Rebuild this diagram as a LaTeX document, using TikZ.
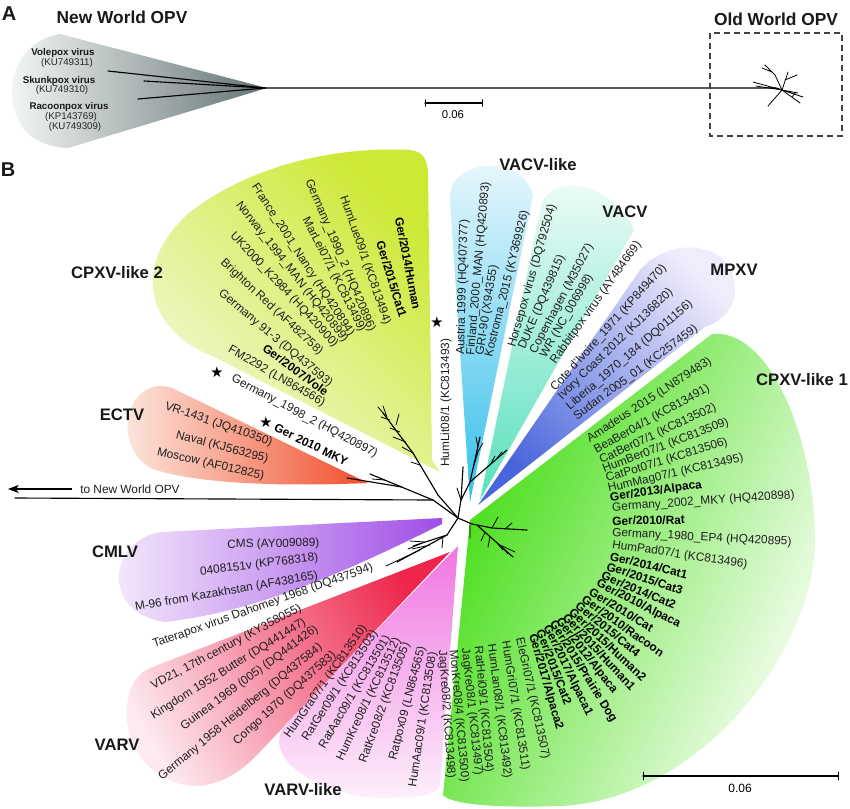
\documentclass[tikz,border=0pt]{standalone}
\usepackage{fontspec}
\setmainfont{Liberation Sans}
\newfontfamily\symfont{DejaVu Sans}
\usetikzlibrary{arrows.meta}
\definecolor{coneD}{RGB}{100,115,115}
\definecolor{coneL}{RGB}{244,246,246}
\definecolor{ylwS}{RGB}{205,232,50}
\definecolor{ylwL}{RGB}{246,249,225}
\definecolor{ectS}{RGB}{240,78,42}
\definecolor{ectL}{RGB}{253,240,234}
\definecolor{cmlS}{RGB}{160,78,230}
\definecolor{cmlL}{RGB}{247,240,252}
\definecolor{varS}{RGB}{238,38,76}
\definecolor{varL}{RGB}{253,234,240}
\definecolor{vlkS}{RGB}{240,118,225}
\definecolor{vlkL}{RGB}{253,240,251}
\definecolor{grnS}{RGB}{60,220,10}
\definecolor{grnL}{RGB}{247,254,243}
\definecolor{mpxS}{RGB}{72,102,220}
\definecolor{mpxL}{RGB}{240,236,252}
\definecolor{vacS}{RGB}{88,224,188}
\definecolor{vacL}{RGB}{240,252,249}
\definecolor{vlS}{RGB}{52,192,234}
\definecolor{vlL}{RGB}{238,249,253}
\begin{document}
\begin{tikzpicture}[x=0.75pt,y=-0.75pt,
  lab/.style={font=\fontsize{8.9}{10}\selectfont,inner sep=0pt,text=black!88},
  blab/.style={font=\bfseries\fontsize{8.9}{10}\selectfont,inner sep=0pt,text=black},
  head/.style={font=\bfseries\fontsize{12.5}{14}\selectfont,inner sep=0pt,text=black!90},
  bighead/.style={font=\bfseries\fontsize{13}{15}\selectfont,inner sep=0pt,text=black!90},
  panel/.style={font=\bfseries\fontsize{15}{16}\selectfont,inner sep=0pt,text=black!90},
  alab/.style={font=\fontsize{7.3}{8}\selectfont,inner sep=0pt,text=black!85},
  ablab/.style={font=\bfseries\fontsize{7.3}{8}\selectfont,inner sep=0pt,text=black!90},
  br/.style={line width=0.85pt,black,line cap=round},
  thinbr/.style={line width=0.6pt,black,line cap=round},
  starmark/.style={font=\symfont\fontsize{11}{11}\selectfont,inner sep=0pt}]
\useasboundingbox (0,0) rectangle (850,808);
\fill[white] (0,0) rectangle (850,808);

% ================= Panel A =================
\shade[left color=coneL, right color=coneD] (267,88) -- (60,34) .. controls (25,40) and (10,70) .. (12,95) .. controls (14,125) and (30,146) .. (68,148) -- cycle;
\coordinate (ap) at (265,88);
\coordinate (ow) at (782,90);
\draw[br] (ap) -- (108,71);
\draw[br] (ap) -- (144,81);
\draw[br] (ap) -- (138,99);
\draw[br] (ap) -- (776,88) -- (ow);
\draw[thinbr] (ow) -- (753,82) (ow) -- (756,86) (ow) -- (775,75) -- (765,65) (772,72) -- (762,68);
\draw[thinbr] (ow) -- (788,72) (785,80) -- (797,75) (ow) -- (803,97) (ow) -- (798,93);
\draw[thinbr] (ow) -- (768,106) (ow) -- (800,103) (792,97) -- (796,92);
\draw[black!75, line width=0.9pt, dash pattern=on 4.5pt off 3pt] (710,33) rectangle (842,136);
\node[panel] (pA) at (9,14) {A};
\node[bighead] (nwo) at (122,17) {New World OPV};
\node[bighead] (owo) at (776,19) {Old World OPV};
\node[ablab] (a1) at (63,53) {Volepox virus};
\node[alab] (a2) at (67,63) {(KU749311)};
\node[ablab] (a3) at (59,81) {Skunkpox virus};
\node[alab] (a4) at (62,90) {(KU749310)};
\node[ablab] (a5) at (69,107) {Racoonpox virus};
\node[alab] (a6) at (71,117) {(KP143769)};
\node[alab] (a7) at (75,127) {(KU749309)};
\coordinate (sa1) at (425,103);
\coordinate (sa2) at (482,103);
\draw[br] (sa1) -- (sa2);
\draw[thinbr] ([yshift=-2.5]sa1) -- ([yshift=2.5]sa1) ([yshift=-2.5]sa2) -- ([yshift=2.5]sa2);
\node[font=\fontsize{8.5}{10}\selectfont,inner sep=0pt] (sal) at (453,115) {0.06};

% ================= Panel B : clade backgrounds =================
% CPXV-like 2
\shade[top color=ylwS, bottom color=ylwL, shading angle=-45]
  (440,472) -- (212,356) .. controls (150,332) and (128,268) .. (188,214) .. controls (245,168) and (330,146) .. (410,150) .. controls (424,152) and (428,160) .. (428,176) -- (432,460) -- cycle;
% ECTV
\shade[left color=ectL, right color=ectS]
  (368,483) -- (172,388) .. controls (130,374) and (108,440) .. (150,468) .. controls (200,486) and (300,486) .. (368,483) -- cycle;
% CMLV
\shade[left color=cmlL, right color=cmlS]
  (442,518) -- (162,532) .. controls (110,538) and (98,612) .. (165,622) .. controls (250,612) and (330,580) .. (442,524) -- cycle;
% VARV
\shade[top color=varS, bottom color=varL, shading angle=-60]
  (450,552) -- (150,668) .. controls (112,684) and (118,772) .. (185,785) .. controls (215,790) and (240,772) .. (255,757) -- cycle;
% VARV-like
\shade[top color=vlkS, bottom color=vlkL, shading angle=0]
  (458,546) -- (285,725) .. controls (258,762) and (330,800) .. (390,798) .. controls (420,797) and (436,795) .. (440,785) -- cycle;
% CPXV-like 1
\shade[top color=grnS, middle color=grnS!78!white, bottom color=grnL, shading angle=65]
  (470,520) -- (712,334) .. controls (770,328) and (815,440) .. (815,540) .. controls (815,650) and (700,800) .. (560,806) .. controls (500,808) and (452,805) .. (443,795) -- cycle;
% MPXV
\shade[top color=mpxS, bottom color=mpxL, shading angle=135]
  (478,505) -- (640,270) .. controls (670,235) and (735,240) .. (735,290) .. controls (735,310) and (720,322) .. (705,327) -- cycle;
% VACV
\shade[top color=vacS, bottom color=vacL, shading angle=180]
  (480,500) -- (542,202) .. controls (556,174) and (612,182) .. (634,230) -- cycle;
% VACV-like
\shade[top color=vlS, bottom color=vlL, shading angle=180]
  (470,502) -- (450,200) .. controls (446,160) and (522,150) .. (533,196) -- cycle;

% ================= Panel B : tree =================
\coordinate (c0) at (458,518);
\coordinate (ja) at (433,500);
\coordinate (arrS) at (8,489);
\draw[br] (15,498) -- (ja) -- (c0);
% CPXV-like 2 clade
\draw[br] (c0) -- (438,495) -- (413,453) -- (383,413);
\draw[thinbr] (413,453) -- (402,447) (406,442) -- (393,437) (400,432) -- (390,428) (396,425) -- (399,414) (390,420) -- (381,417) (387,417) -- (383,406) (385,415) -- (378,407) (420,465) -- (411,462);
% ECTV + Ger 2010 MKY + Germany_1998_2
\draw[br] (ja) -- (370,474);
\draw[br] (402,487) -- (347,478);
\draw[thinbr] (385,480) -- (372,479);
% VACV-like / VACV / MPXV
\draw[br] (c0) -- (461,500) -- (463,467);
\draw[br] (461,500) -- (470,482) -- (480,437);
\draw[thinbr] (476,455) -- (483,443) (478,447) -- (476,437) (474,465) -- (478,452);
\draw[br] (470,482) -- (507,450);
\draw[thinbr] (497,458) -- (502,452) (490,465) -- (495,456);
\draw[thinbr] (461,500) -- (457,488);
% CPXV-like 1
\draw[br] (c0) -- (472,524) -- (492,528) -- (527,530);
\draw[thinbr] (492,528) -- (498,517) (505,529) -- (512,523) (470,524) -- (470,538);
\draw[br] (478,526) -- (513,557);
\draw[thinbr] (490,537) -- (488,547) (497,543) -- (503,550) (503,548) -- (508,554) (485,532) -- (481,541) (500,545) -- (515,552);
% CMLV / Taterapox / VARV / VARV-like
\draw[br] (c0) -- (447,535) -- (413,546);
\draw[thinbr] (425,542) -- (410,541) (420,544) -- (408,549);
\draw[br] (447,535) -- (397,562);
\draw[thinbr] (420,550) -- (386,566) (430,545) -- (412,549);
\draw[thinbr] (443,537) -- (442,548);

% arrow to New World OPV
\node[lab, anchor=west] (tonw) at (80,489) {to New World OPV};
\draw[line width=0.9pt, -{Stealth[length=8pt,width=6pt,inset=2pt]}] ([xshift=-6pt]tonw.west) -- (arrS);

% scale bar B
\coordinate (sb1) at (643,776);
\coordinate (sb2) at (838,776);
\draw[br] (sb1) -- (sb2);
\draw[thinbr] ([yshift=-3]sb1) -- ([yshift=3]sb1) ([yshift=-3]sb2) -- ([yshift=3]sb2);
\node[font=\fontsize{9}{10}\selectfont,inner sep=0pt] (sbl) at (740,788) {0.06};

% ================= Headings =================
\node[panel] (pB) at (8,170) {B};
\node[head] (hc2) at (117,273) {CPXV-like 2};
\node[head] (hect) at (122,415) {ECTV};
\node[head] (hcml) at (115,552) {CMLV};
\node[head] (hvar) at (117,745) {VARV};
\node[head] (hvlk) at (303,790) {VARV-like};
\node[head] (hc1) at (802,380) {CPXV-like 1};
\node[head] (hmpx) at (734,270) {MPXV};
\node[head] (hvac) at (625,212) {VACV};
\node[head] (hvl) at (538,165) {VACV-like};

% ================= Labels: CPXV-like 2 =================
\node[blab,rotate=-79,anchor=west] (c2a) at (399,217) {Ger/2014/Human};
\node[blab,rotate=-73,anchor=west] (c2b) at (380,241) {Ger/2015/Cat1};
\node[lab,rotate=-71,anchor=west] (c2c) at (343,196) {HumLue09/1 (KC813494)};
\node[lab,rotate=-67,anchor=west] (c2d) at (308,180) {Germany\_1990\_2 (HQ420896)};
\node[lab,rotate=-63,anchor=west] (c2e) at (305,218) {MarLei07/1 (KC813499)};
\node[lab,rotate=-57,anchor=west] (c2f) at (254,185) {France\_2001\_Nancy (HQ420894)};
\node[lab,rotate=-52,anchor=west] (c2g) at (238,203) {Norway\_1994\_MAN (HQ420899)};
\node[lab,rotate=-47,anchor=west] (c2h) at (232,234) {UK2000\_K2984 (HQ420900)};
\node[lab,rotate=-43,anchor=west] (c2i) at (222,261) {Brighton Red (AF482758)};
\node[lab,rotate=-40,anchor=west] (c2j) at (220,292) {Germany 91-3 (DQ437593)};
\node[blab,rotate=-36,anchor=west] (c2k) at (264,347) {Ger/2007/Vole};
\node[lab,rotate=-30,anchor=west] (c2l) at (229,349) {FM2292 (LN864566)};
\node[lab,rotate=-28,anchor=west] (g98) at (232,378) {Germany\_1998\_2 (HQ420897)};
\node[blab,rotate=-26,anchor=west] (g10) at (275,427) {Ger 2010 MKY};
\node[starmark] (st1) at (217,372) {★};
\node[starmark] (st2) at (266,422) {★};
\node[starmark] (st3) at (437,322) {★};
\node[lab,rotate=90,anchor=west] (hlit) at (446,467) {HumLit08/1 (KC813493)};

% ================= ECTV =================
\node[lab,rotate=-19,anchor=west] (e1) at (165,406) {VR-1431 (JQ410350)};
\node[lab,rotate=-15,anchor=west] (e2) at (176,435) {Naval (KJ563295)};
\node[lab,rotate=-13,anchor=west] (e3) at (157,452) {Moscow (AF012825)};

% ================= CMLV / Taterapox =================
\node[lab,rotate=1,anchor=west] (m1) at (227,545) {CMS (AY009089)};
\node[lab,rotate=7,anchor=west] (m2) at (200,572) {0408151v (KP768318)};
\node[lab,rotate=10,anchor=west] (m3) at (135,608) {M-96 from Kazakhstan (AF438165)};
\node[lab,rotate=19.5,anchor=west] (tat) at (153,645) {Taterapox virus Dahomey 1968 (DQ437594)};

% ================= VARV =================
\node[lab,rotate=28,anchor=west] (v1) at (152,687) {VD21, 17th century (KY358055)};
\node[lab,rotate=32,anchor=west] (v2) at (152,717) {Kingdom 1952 Butter (DQ441447)};
\node[lab,rotate=36.5,anchor=west] (v3) at (182,728) {Guinea 1969 (005) (DQ441426)};
\node[lab,rotate=39.4,anchor=west] (v4) at (160,778) {Germany 1958 Heidelberg (DQ437584)};
\node[lab,rotate=42,anchor=west] (v5) at (235,743) {Congo 1970 (DQ437583)};

% ================= VARV-like =================
\node[lab,rotate=55,anchor=west] (w1) at (287,737) {HumGra07/1 (KC813510)};
\node[lab,rotate=57,anchor=west] (w2) at (305,740) {RatGer09/1 (KC813503)};
\node[lab,rotate=59.5,anchor=west] (w3) at (322,748) {RatAac09/1 (KC813501)};
\node[lab,rotate=64.5,anchor=west] (w4) at (340,760) {HumKre08/1 (KC813512)};
\node[lab,rotate=70,anchor=west] (w5) at (363,763) {RatKre08/2 (KC813505)};
\node[lab,rotate=75.5,anchor=west] (w6) at (393,760) {Ratpox09 (LN864565)};
\node[lab,rotate=81.5,anchor=west] (w7) at (413,787) {HumAac09/1 (KC813508)};

% ================= CPXV-like 1 =================
\node[lab,rotate=33,anchor=west] (g1) at (588,440) {Amadeus 2015 (LN879483)};
\node[lab,rotate=29,anchor=west] (g2) at (595,451) {BeaBer04/1 (KC813491)};
\node[lab,rotate=25,anchor=west] (g3) at (600,461) {CatBer07/1 (KC813502)};
\node[lab,rotate=21,anchor=west] (g4) at (603,470) {HumBer07/1 (KC813509)};
\node[lab,rotate=17,anchor=west] (g5) at (606,479) {CatPot07/1 (KC813506)};
\node[lab,rotate=13,anchor=west] (g6) at (608,489) {HumMag07/1 (KC813495)};
\node[blab,rotate=8,anchor=west] (g7) at (610,498) {Ger/2013/Alpaca};
\node[lab,rotate=4,anchor=west] (g8) at (612,508) {Germany\_2002\_MKY (HQ420898)};
\node[blab,rotate=1,anchor=west] (g9) at (612,521) {Ger/2010/Rat};
\node[lab,rotate=-3,anchor=west] (g10b) at (612,533) {Germany\_1980\_EP4 (HQ420895)};
\node[lab,rotate=-8.5,anchor=west] (g11) at (612,545) {HumPad07/1 (KC813496)};
\node[blab,rotate=-13.5,anchor=west] (g12) at (610,556) {Ger/2014/Cat1};
\node[blab,rotate=-18,anchor=west] (g13) at (607,566) {Ger/2015/Cat3};
\node[blab,rotate=-22.5,anchor=west] (g14) at (602,575) {Ger/2014/Cat2};
\node[blab,rotate=-27,anchor=west] (g15) at (597,583) {Ger/2010/Alpaca};
\node[blab,rotate=-31,anchor=west] (g16) at (590,591) {Ger/2010/Cat};
\node[blab,rotate=-35,anchor=west] (g17) at (583,598) {Ger/2010/Racoon};
\node[blab,rotate=-39,anchor=west] (g18) at (577,604) {Ger/2015/Cat4};
\node[blab,rotate=-43,anchor=west] (g19) at (571,610) {Ger/2015/Human2};
\node[blab,rotate=-47,anchor=west] (g20) at (565,615) {Ger/2015/Human1};
\node[blab,rotate=-52,anchor=west] (g21) at (558,619) {Ger/2012/Alpaca};
\node[blab,rotate=-58,anchor=west] (g22) at (552,622) {Ger/2015/Prairie Dog};
\node[blab,rotate=-64,anchor=west] (g23) at (546,626) {Ger/2017/Alpaca1};
\node[blab,rotate=-69,anchor=west] (g24) at (540,630) {Ger/2015/Cat2};
\node[blab,rotate=-74,anchor=west] (g25) at (532,634) {Ger/2017/Alpaca2};
\node[lab,rotate=-77.5,anchor=west] (g26) at (519,638) {EleGri07/1 (KC813507)};
\node[lab,rotate=-81,anchor=west] (g27) at (505,641) {HumGri07/1 (KC813511)};
\node[lab,rotate=-83,anchor=west] (g28) at (491,644) {HumLan08/1 (KC813492)};
\node[lab,rotate=-85,anchor=west] (g29) at (478,646) {RatHei09/1 (KC813504)};
\node[lab,rotate=-84,anchor=west] (g30) at (465,648) {JagKre08/1 (KC813497)};
\node[lab,rotate=-85,anchor=west] (g31) at (453,650) {MonKre08/4 (KC813500)};
\node[lab,rotate=-86,anchor=west] (g32) at (442,650) {JagKre08/2 (KC813498)};

% ================= MPXV =================
\node[lab,rotate=48,anchor=west] (p1) at (553,390) {Cote d'Ivoire\_1971 (KP849470)};
\node[lab,rotate=44,anchor=west] (p2) at (560,398) {Ivory Coast 2012 (KJ136820)};
\node[lab,rotate=40.5,anchor=west] (p3) at (568,408) {Liberia\_1970\_184 (DQ011156)};
\node[lab,rotate=36.6,anchor=west] (p4) at (575,418) {Sudan 2005\_01 (KC257459)};

% ================= VACV =================
\node[lab,rotate=74,anchor=west] (k1) at (512,347) {Horsepox virus (DQ792504)};
\node[lab,rotate=67,anchor=west] (k2) at (522,349) {DUKE (DQ439815)};
\node[lab,rotate=62,anchor=west] (k3) at (533,353) {Copenhagen (M35027)};
\node[lab,rotate=60,anchor=west] (k4) at (543,357) {WR (NC\_006998)};
\node[lab,rotate=54.5,anchor=west] (k5) at (553,363) {Rabbitpox virus (AY484669)};

% ================= VACV-like =================
\node[lab,rotate=88.5,anchor=west] (l1) at (461,355) {Austria 1999 (HQ407377)};
\node[lab,rotate=85,anchor=west] (l2) at (471,355) {Finland\_2000\_MAN (HQ420893)};
\node[lab,rotate=81,anchor=west] (l3) at (480,355) {GRI-90 (X94355)};
\node[lab,rotate=76,anchor=west] (l4) at (489,357) {Kostroma\_2015 (KY369926)};
\end{tikzpicture}
\end{document}
